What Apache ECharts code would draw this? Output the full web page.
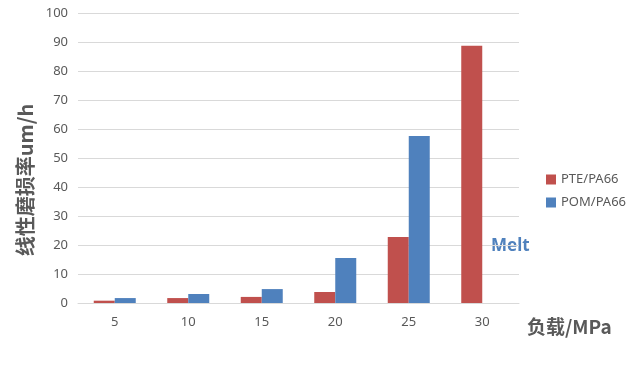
<!DOCTYPE html>
<html>
<head>
<meta charset="utf-8">
<script src="https://cdn.jsdelivr.net/npm/echarts@6/dist/echarts.min.js"></script>
<style>html,body{margin:0;padding:0;background:#fff}#c{width:632px;height:374px}</style>
</head>
<body>
<div id="c"></div>
<script>
const categories = ['5', '10', '15', '20', '25', '30'];
const pteValues = [0.8, 1.7, 2.1, 3.8, 22.8, 88.7];
const pomValues = [1.7, 3.1, 4.8, 15.5, 57.6, null];
const seriesNames = ['PTE/PA66', 'POM/PA66'];
const yAxisTitle = '线性磨损率um/h';
const xAxisTitle = '负载/MPa';
const noteText = 'Melt';

const chart = echarts.init(document.getElementById('c'));
chart.setOption({
  animation: false,
  textStyle: {fontFamily: 'Noto Sans CJK SC, Noto Sans, sans-serif'},
  grid: {left: 78, right: 113, top: 13, bottom: 71},
  legend: {
    orient: 'vertical', left: 541, top: 168, itemWidth: 10, itemHeight: 10, itemGap: 10,
    icon: 'rect',
    textStyle: {color: '#595959', fontSize: 13, fontFamily: 'Noto Sans, sans-serif'},
    data: seriesNames
  },
  xAxis: {
    type: 'category', data: categories,
    axisLine: {lineStyle: {color: '#d9d9d9'}},
    axisTick: {show: false},
    axisLabel: {color: '#595959', fontSize: 13, margin: 13, fontFamily: 'Noto Sans, sans-serif'}
  },
  yAxis: {
    type: 'value', min: 0, max: 100, interval: 10,
    axisLine: {show: false}, axisTick: {show: false},
    axisLabel: {color: '#595959', fontSize: 13, margin: 10, fontFamily: 'Noto Sans, sans-serif'},
    splitLine: {lineStyle: {color: '#d9d9d9'}}
  },
  series: [
    {name: seriesNames[0], type: 'bar', data: pteValues, barWidth: 21, barGap: '0%', itemStyle: {color: '#c0504d'}},
    {name: seriesNames[1], type: 'bar', data: pomValues, barWidth: 21, barGap: '0%', itemStyle: {color: '#4f81bd'}}
  ],
  graphic: [
    {type: 'text', x: 25, y: 180, rotation: Math.PI / 2, style: {text: yAxisTitle, fill: '#595959', fontSize: 20, fontWeight: 'bold', align: 'center', verticalAlign: 'middle', fontFamily: 'Noto Sans CJK SC, sans-serif'}},
    {type: 'text', left: 527, top: 317, style: {text: xAxisTitle, fill: '#595959', fontSize: 19, fontWeight: 'bold', fontFamily: 'Noto Sans CJK SC, sans-serif'}},
    {type: 'text', left: 491, top: 238, style: {text: noteText, fill: '#4f81bd', fontSize: 17, fontWeight: 'bold', fontFamily: 'Noto Sans, sans-serif'}}
  ]
});
</script>
</body>
</html>
